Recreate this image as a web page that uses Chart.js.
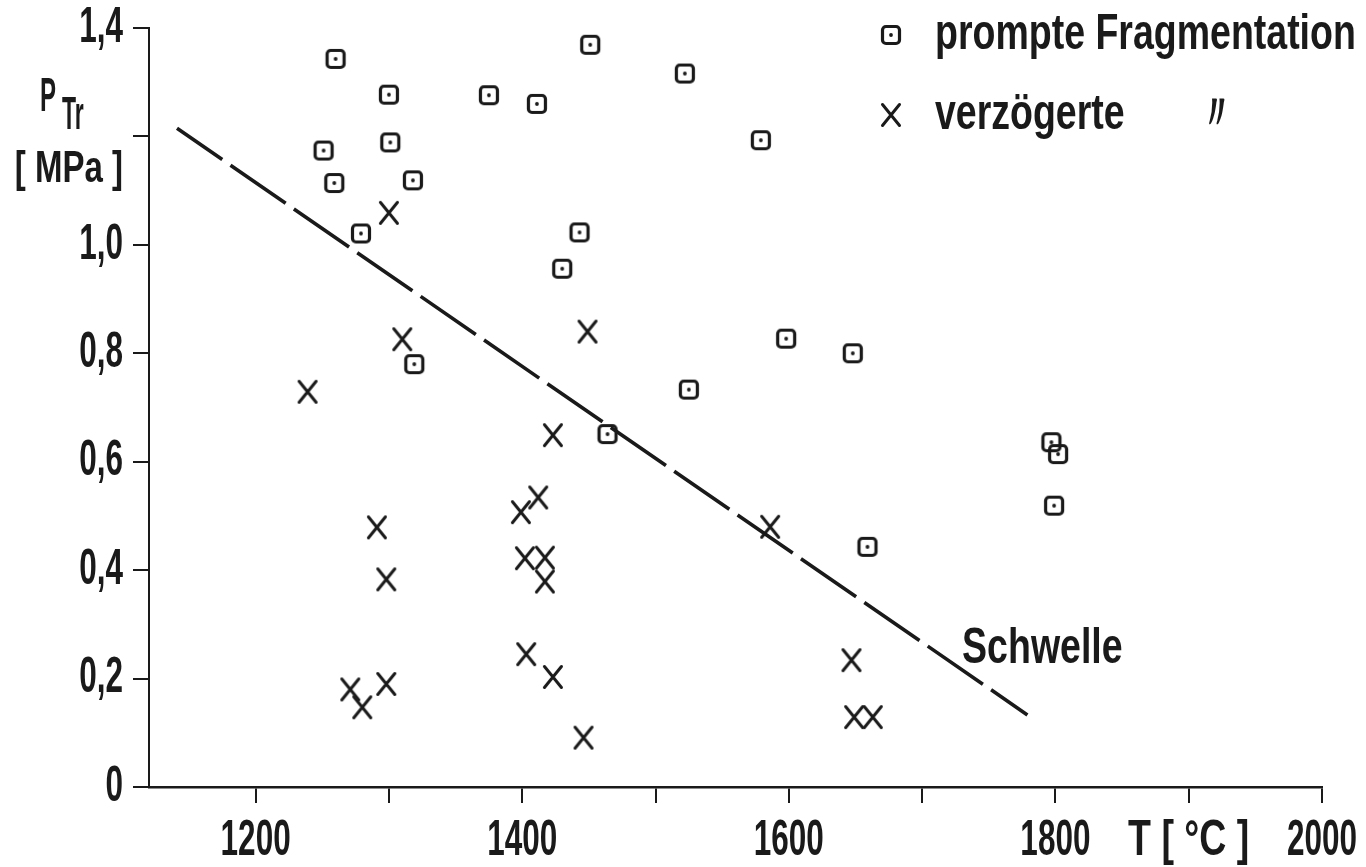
<!DOCTYPE html>
<html>
<head>
<meta charset="utf-8">
<script src="https://cdn.jsdelivr.net/npm/chart.js@4.4.1/dist/chart.umd.min.js"></script>
<style>
  html, body { margin: 0; padding: 0; background: #ffffff; }
  #wrap { width: 1366px; height: 867px; position: relative; }
</style>
</head>
<body>
<div id="wrap"><canvas id="chart"></canvas></div>
<script>
// ---------------- data ----------------
const seriesNames = ['prompte Fragmentation', 'verzögerte       \u3003', 'Schwelle'];

// prompte Fragmentation (squares): temperature T [°C] and pressure P_Tr [MPa]
const promptT = [1260, 1573, 1451, 1522, 1300, 1375, 1411, 1251, 1301, 1579, 1259, 1318,
                 1279, 1443, 1430, 1598, 1648, 1319, 1525, 1464, 1797, 1802, 1799, 1659];
const promptP = [1.343, 1.435, 1.369, 1.316, 1.277, 1.276, 1.260, 1.174, 1.189, 1.193, 1.114, 1.119,
                 1.021, 1.023, 0.956, 0.827, 0.800, 0.780, 0.733, 0.651, 0.636, 0.614, 0.519, 0.443];

// verzögerte Fragmentation (crosses)
const delayedT = [1239, 1300, 1310, 1449, 1423, 1291, 1298, 1399, 1412, 1402, 1417,
                  1417, 1271, 1280, 1298, 1403, 1423, 1446, 1586, 1647, 1649, 1663];
const delayedP = [0.729, 1.059, 0.826, 0.840, 0.649, 0.479, 0.383, 0.507, 0.534, 0.422, 0.423,
                  0.379, 0.180, 0.147, 0.190, 0.245, 0.203, 0.091, 0.480, 0.234, 0.129, 0.129];

// Schwelle (threshold, dashed line) end points
const thresholdT = [1141, 1779];
const thresholdP = [1.215, 0.133];
// where the word "Schwelle" sits (data coordinates of its left baseline)
const thresholdLabelAt = [1730, 0.229];

// axes
const xTickValues = [1200, 1300, 1400, 1500, 1600, 1700, 1800, 1900, 2000];
const xTickLabels = ['1200', '', '1400', '', '1600', '', '1800', 'T [ °C ]', '2000'];
const yTickValues = [0, 0.2, 0.4, 0.6, 0.8, 1.0, 1.2, 1.4];
const yTickLabels = ['0', '0,2', '0,4', '0,6', '0,8', '1,0', '', '1,4'];
const xRange = [1120, 2000];
const yRange = [0, 1.4];
const yTitleMain = 'P', yTitleSub = 'Tr', yTitleUnit = '[ MPa ]';

// ---------------- styling ----------------
const INK = '#1a1a1a';
const FONT = '"Liberation Sans", Arial, sans-serif';

// condensed lettering (DIN-like): compress text horizontally when drawn
const canvas = document.getElementById('chart');
const ctx = canvas.getContext('2d');
const nativeFillText = ctx.fillText;
ctx.fillText = function (text, x, y, maxWidth) {
  const s = String(text);
  const f = this._squeeze || (/^[0-9,]+$/.test(s) ? 0.63 : 0.75);
  const w = this.measureText(s).width * f;
  const mw = (maxWidth === undefined || maxWidth === null) ? w : Math.min(maxWidth, w);
  return nativeFillText.call(this, s, x, y, mw);
};

// marker glyphs
function makeSquareMark() {
  const c = document.createElement('canvas');
  c.width = 24; c.height = 24;
  const g = c.getContext('2d');
  g.strokeStyle = INK; g.fillStyle = INK; g.lineWidth = 3.2;
  g.beginPath();
  g.roundRect(3.5, 3.5, 17, 17, 3.5);
  g.stroke();
  g.beginPath();
  g.arc(12, 12, 1.9, 0, Math.PI * 2);
  g.fill();
  return c;
}
function makeCrossMark() {
  const c = document.createElement('canvas');
  c.width = 26; c.height = 28;
  const g = c.getContext('2d');
  g.strokeStyle = INK; g.lineWidth = 3; g.lineCap = 'round';
  g.beginPath();
  g.moveTo(4.5, 3.5); g.lineTo(21.5, 24.5);
  g.moveTo(21.5, 3.5); g.lineTo(4.5, 24.5);
  g.stroke();
  return c;
}
const squareMark = makeSquareMark();
const crossMark = makeCrossMark();

const toPoints = (xs, ys) => xs.map((v, i) => ({ x: v, y: ys[i] }));

// ---------------- plugins ----------------
const textPlugin = {
  id: 'figureText',
  afterLayout(chart) {
    const lg = chart.legend;
    if (!lg) return;
    const ca = chart.chartArea;
    lg.left = ca.right - 480;
    lg.top = ca.top - 48;
    lg.right = chart.width;
    lg.bottom = lg.top + 300;
  },
  afterDraw(chart) {
    const c = chart.ctx;
    const { x, y } = chart.scales;
    c.save();
    c.fillStyle = INK;
    c.textBaseline = 'alphabetic';
    // "Schwelle"
    c.textAlign = 'left';
    c.font = 'bold 50px ' + FONT;
    c.fillText(seriesNames[2], x.getPixelForValue(thresholdLabelAt[0]), y.getPixelForValue(thresholdLabelAt[1]));
    // y-axis title in the place of the 1,2 label
    const ty = y.getPixelForValue(1.2);
    const rx = y.right - 26;
    c._squeeze = 0.5;
    c.font = 'bold 48px ' + FONT;
    c.fillText(yTitleMain, rx - 83, ty - 25);
    c.font = 'bold 46px ' + FONT;
    c.fillText(yTitleSub, rx - 61, ty - 7);
    c._squeeze = 0;
    c.textAlign = 'right';
    c.font = 'bold 44px ' + FONT;
    c.fillText(yTitleUnit, rx, ty + 46);
    c.restore();
  }
};

// ---------------- chart ----------------
new Chart(ctx, {
  type: 'scatter',
  data: {
    datasets: [
      {
        label: seriesNames[0],
        data: toPoints(promptT, promptP),
        pointStyle: squareMark,
        pointRadius: 10,
        pointHoverRadius: 10,
        clip: false
      },
      {
        label: seriesNames[1],
        data: toPoints(delayedT, delayedP),
        pointStyle: crossMark,
        pointRadius: 10,
        pointHoverRadius: 10,
        clip: false
      },
      {
        label: seriesNames[2],
        data: toPoints(thresholdT, thresholdP),
        showLine: true,
        borderColor: INK,
        borderWidth: 3.6,
        borderDash: [67, 10],
        borderDashOffset: 12,
        borderCapStyle: 'butt',
        pointRadius: 0,
        pointHoverRadius: 0,
        fill: false
      }
    ]
  },
  options: {
    responsive: true,
    maintainAspectRatio: false,
    animation: false,
    events: [],
    layout: { padding: { top: 28, right: 44, bottom: 0, left: 0 } },
    scales: {
      x: {
        type: 'linear',
        min: xRange[0],
        max: xRange[1],
        afterBuildTicks: (s) => { s.ticks = xTickValues.map(v => ({ value: v })); },
        afterFit: (s) => { s.height = 80; s.paddingLeft = 0; s.paddingRight = 0; },
        ticks: {
          autoSkip: false,
          maxRotation: 0,
          minRotation: 0,
          padding: 8,
          color: INK,
          font: { family: FONT, size: 50, weight: 'bold' },
          callback: (v) => { const i = xTickValues.indexOf(v); return i >= 0 ? xTickLabels[i] : ''; }
        },
        grid: { drawOnChartArea: false, drawTicks: true, tickLength: 16, color: INK, lineWidth: 2 },
        border: { display: true, color: INK, width: 2.5 }
      },
      y: {
        type: 'linear',
        min: yRange[0],
        max: yRange[1],
        afterBuildTicks: (s) => { s.ticks = yTickValues.map(v => ({ value: v })); },
        afterFit: (s) => { s.width = 149; s.paddingTop = 0; s.paddingBottom = 0; },
        ticks: {
          autoSkip: false,
          padding: 10,
          color: INK,
          font: { family: FONT, size: 50, weight: 'bold' },
          callback: (v) => {
            const i = yTickValues.findIndex(t => Math.abs(t - v) < 1e-9);
            return i >= 0 ? yTickLabels[i] : '';
          }
        },
        grid: { drawOnChartArea: false, drawTicks: true, tickLength: 16, color: INK, lineWidth: 2 },
        border: { display: true, color: INK, width: 2 }
      }
    },
    plugins: {
      tooltip: { enabled: false },
      title: { display: false },
      legend: {
        display: true,
        position: 'chartArea',
        align: 'start',
        labels: {
          usePointStyle: true,
          boxWidth: 38,
          boxHeight: 20,
          padding: 30,
          color: INK,
          font: { family: FONT, size: 50, weight: 'bold' },
          filter: (item) => item.datasetIndex < 2
        }
      }
    }
  },
  plugins: [textPlugin]
});
</script>
</body>
</html>
